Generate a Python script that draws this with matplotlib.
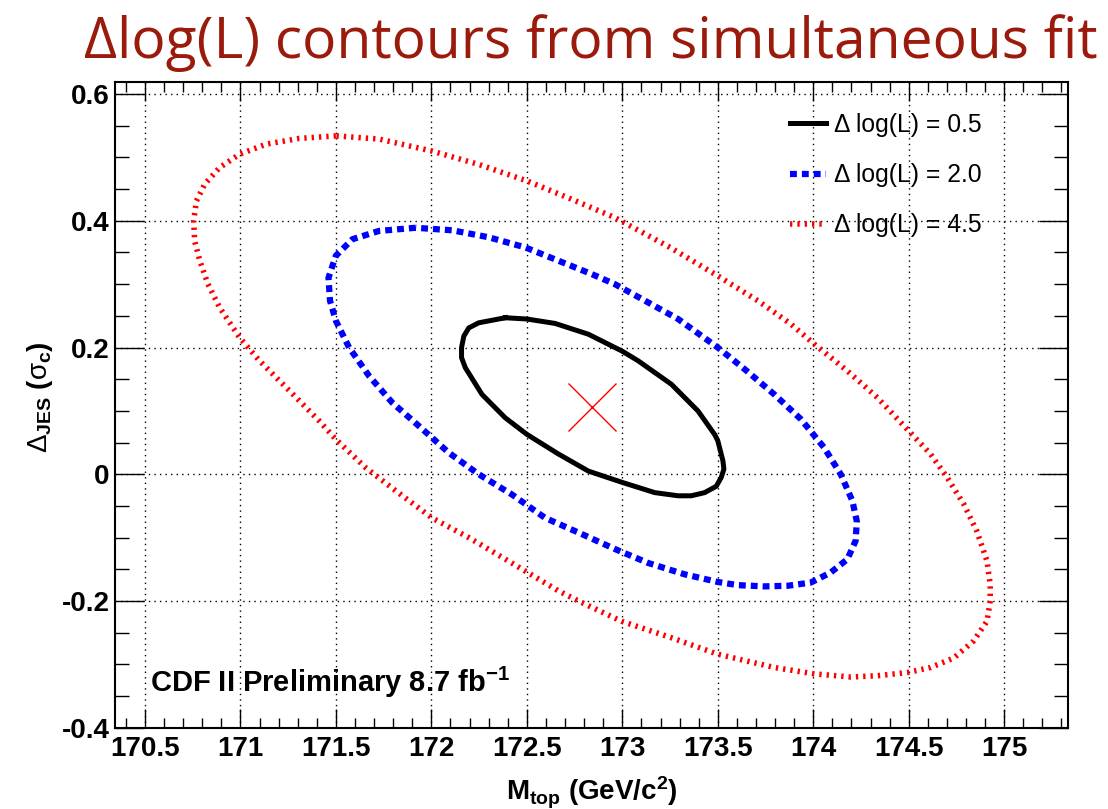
import matplotlib
matplotlib.use("Agg")
import matplotlib.pyplot as plt
from matplotlib.ticker import MultipleLocator

# fonts (Helvetica-like for the axes, a humanist sans for the slide title)
plt.rcParams['font.family'] = ['Liberation Sans', 'DejaVu Sans']
plt.rcParams['mathtext.fontset'] = 'custom'
plt.rcParams['mathtext.rm'] = 'Liberation Sans'
plt.rcParams['mathtext.it'] = 'Liberation Sans'
plt.rcParams['mathtext.bf'] = 'Liberation Sans:bold'

# best fit point
fit_mtop = [172.84]
fit_djes = [0.106]

# contour dlog(L) = 0.5
c05_mtop = [172.387, 172.248, 172.196, 172.170, 172.158, 172.158, 172.178, 172.265,
            172.387, 172.500, 172.665, 172.822, 173.001, 173.170, 173.292, 173.361,
            173.431, 173.492, 173.518, 173.532, 173.527, 173.500, 173.483, 173.396,
            173.257, 173.083, 173.001, 172.822, 172.648, 172.500]
c05_djes = [0.247, 0.239, 0.231, 0.218, 0.200, 0.184, 0.168, 0.126,
            0.089, 0.063, 0.032, 0.005, -0.013, -0.029, -0.034, -0.034,
            -0.029, -0.019, -0.005, 0.008, 0.021, 0.053, 0.063, 0.100,
            0.142, 0.179, 0.194, 0.221, 0.238, 0.245]

# contour dlog(L) = 2.0
c20_mtop = [171.918, 171.726, 171.587, 171.500, 171.461, 171.469, 171.500, 171.569,
            171.674, 171.795, 171.935, 172.091, 172.248, 172.422, 172.596, 172.770,
            172.961, 173.135, 173.327, 173.500, 173.605, 173.744, 173.866, 173.987,
            174.092, 174.179, 174.222, 174.228, 174.205, 174.144, 174.057, 173.935,
            173.796, 173.640, 173.500, 173.292, 173.118, 172.961, 172.839, 172.665,
            172.492, 172.300, 172.109]
c20_djes = [0.389, 0.384, 0.371, 0.345, 0.310, 0.274, 0.242, 0.200,
            0.155, 0.113, 0.076, 0.034, 0.000, -0.032, -0.069, -0.092,
            -0.118, -0.140, -0.158, -0.170, -0.175, -0.177, -0.176, -0.171,
            -0.155, -0.134, -0.105, -0.074, -0.042, 0.000, 0.042, 0.087,
            0.126, 0.166, 0.200, 0.245, 0.274, 0.300, 0.316, 0.337,
            0.358, 0.374, 0.385]

# contour dlog(L) = 4.5
c45_mtop = [171.500, 171.308, 171.135, 170.995, 170.891, 170.813, 170.769, 170.755,
            170.760, 170.787, 170.830, 170.891, 170.995, 171.100, 171.256, 171.413,
            171.500, 171.657, 171.813, 172.004, 172.196, 172.387, 172.526, 172.665,
            172.770, 172.996, 173.257, 173.500, 173.796, 174.005, 174.196, 174.336,
            174.492, 174.614, 174.736, 174.840, 174.910, 174.927, 174.927, 174.910,
            174.857, 174.788, 174.701, 174.614, 174.501, 174.336, 174.179, 174.007,
            173.883, 173.709, 173.500, 173.250, 172.961, 172.735, 172.500, 172.248,
            172.004, 171.726]
c45_djes = [0.534, 0.530, 0.521, 0.505, 0.484, 0.458, 0.431, 0.400,
            0.368, 0.337, 0.300, 0.263, 0.216, 0.179, 0.132, 0.084,
            0.055, 0.010, -0.026, -0.069, -0.100, -0.134, -0.159, -0.184,
            -0.200, -0.232, -0.258, -0.284, -0.305, -0.315, -0.320, -0.318,
            -0.313, -0.305, -0.290, -0.263, -0.232, -0.200, -0.174, -0.137,
            -0.090, -0.047, -0.005, 0.032, 0.068, 0.121, 0.163, 0.205,
            0.237, 0.274, 0.313, 0.358, 0.405, 0.434, 0.463, 0.489,
            0.510, 0.529]

labels = ["\u0394 log(L) = 0.5", "\u0394 log(L) = 2.0", "\u0394 log(L) = 4.5"]

fig = plt.figure(figsize=(11.08, 8.09), dpi=100)
ax = fig.add_axes([0.1038, 0.1005, 0.8604, 0.7981])

# contours, closed loops
ax.plot(c05_mtop + c05_mtop[:1], c05_djes + c05_djes[:1], color="black", lw=3.6,
        solid_joinstyle="round", label=labels[0], zorder=4)
ax.plot(c20_mtop + c20_mtop[:1], c20_djes + c20_djes[:1], color="#0000ff", lw=4.5,
        linestyle=(0, (1.1, 0.8)), dash_capstyle="butt", label=labels[1], zorder=3)
ax.plot(c45_mtop + c45_mtop[:1], c45_djes + c45_djes[:1], color="#ff0000", lw=4.0,
        linestyle=(0, (0.42, 0.9)), dash_capstyle="butt", label=labels[2], zorder=3)
ax.plot(fit_mtop, fit_djes, marker="x", color="red", ms=35, mew=1.0, ls="none", zorder=5)

ax.set_xlim(170.343, 175.336)
ax.set_ylim(-0.4, 0.619)

# ROOT style axes
ax.xaxis.set_minor_locator(MultipleLocator(0.1))
ax.yaxis.set_minor_locator(MultipleLocator(0.05))
ax.set_xticks([170.5, 171, 171.5, 172, 172.5, 173, 173.5, 174, 174.5, 175])
ax.set_xticklabels(["170.5", "171", "171.5", "172", "172.5", "173", "173.5", "174", "174.5", "175"])
ax.set_yticks([-0.4, -0.2, 0, 0.2, 0.4, 0.6])
ax.set_yticklabels(["-0.4", "-0.2", "0", "0.2", "0.4", "0.6"])
ax.tick_params(axis="x", which="major", direction="in", length=14, width=1, top=True, pad=6, labelsize=20)
ax.tick_params(axis="x", which="minor", direction="in", length=7, width=1, top=True)
ax.tick_params(axis="y", which="major", direction="in", length=21, width=1, right=True, pad=4, labelsize=20)
ax.tick_params(axis="y", which="minor", direction="in", length=10, width=1, right=True)
for lab in ax.get_xticklabels() + ax.get_yticklabels():
    lab.set_fontweight("bold")
for sp in ax.spines.values():
    sp.set_linewidth(1.5)
ax.grid(True, which="major", color="black", linestyle=(0, (1, 3)), linewidth=1.0)
ax.set_axisbelow(True)

leg = ax.legend(loc="upper left", bbox_to_anchor=(0.708, 0.952), frameon=False, fontsize=17.8,
                handlelength=1.45, handletextpad=0.35, labelspacing=1.06,
                borderpad=0, borderaxespad=0)

# axis titles
fig.text(0.534, 0.011, r"$\mathbf{M_{top}\ (GeV/c^{2})}$", ha="center", va="baseline", fontsize=20)
fig.text(0.036, 0.509, r"$\Delta_{\mathbf{JES}}\ \mathbf{(}\sigma_{\mathbf{c}}\mathbf{)}$",
         ha="center", va="center", rotation=90, fontsize=20)

fig.text(0.1354, 0.145, r"CDF II Preliminary 8.7 fb$^{\mathbf{-1}}$", fontsize=21,
         fontweight="bold", ha="left", va="baseline")

# slide title
fig.text(0.5334, 0.928, "\u0394log(L) contours from simultaneous fit", ha="center", va="baseline",
         fontsize=41, color="#9a1a0c", family=["Open Sans", "DejaVu Sans"])

fig.savefig("out.png", dpi=100)
